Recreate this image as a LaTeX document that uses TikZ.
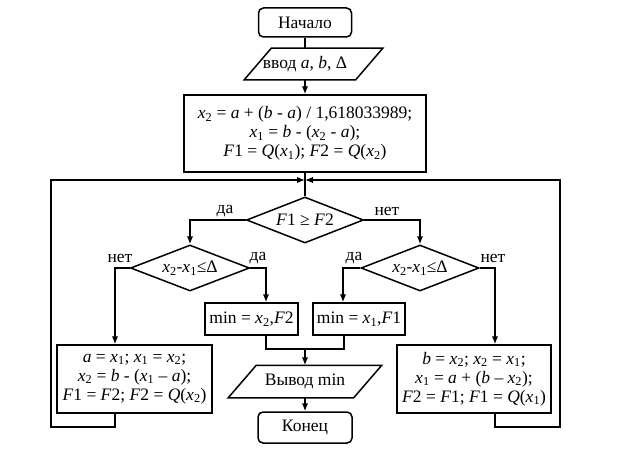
\documentclass[tikz,border=0pt]{standalone}
\usepackage{fontspec}
\setmainfont{Liberation Serif}
\usetikzlibrary{arrows.meta,shapes.geometric,calc}
\newcommand\vx[1]{\textit{x}\textsubscript{#1}}
\newcommand\vi[1]{\textit{#1}}
\begin{document}
\begin{tikzpicture}[x=1pt,y=-1pt,line width=1.5pt,
  txt/.style={font=\fontsize{17.5}{19}\selectfont},
  box/.style={txt,draw,rectangle,inner sep=0pt,align=center},
  term/.style={box,rounded corners=5pt},
  io/.style={txt,rectangle,inner sep=0pt,align=center},
  dec/.style={txt,draw,diamond,aspect=2.5,inner sep=0pt},
  lbl/.style={txt,inner sep=0pt},
  arr/.style={-{Latex[length=8pt,width=6.5pt]}}]
\fill[white] (0,0) rectangle (626,452);
\useasboundingbox (0,0) rectangle (626,452);

\node[term,minimum width=93pt,minimum height=29pt] (start) at (305,22.5) {Начало};
\node[io,minimum width=110pt,minimum height=30pt] (in) at (305,64) {ввод \vi{a}, \vi{b}, Δ};
\draw ([xshift=22pt]in.north west) -- ([xshift=22pt]in.north east)
   -- ([xshift=-5pt]in.south east) -- ([xshift=-5pt]in.south west) -- cycle;
\node[box,minimum width=242pt,minimum height=77pt] (main) at (305,133.5)
  {\vx{2} = \vi{a} + (\vi{b} - \vi{a}) / 1,618033989;\\
   \vx{1} = \vi{b} - (\vx{2} - \vi{a});\\
   \vi{F}1 = \vi{Q}(\vx{1}); \vi{F}2 = \vi{Q}(\vx{2})};

\node[dec,minimum width=117pt,minimum height=46pt] (d1) at (305,220) {\vi{F}1 ≥ \vi{F}2};
\node[dec,minimum width=119pt,minimum height=46pt] (d2) at (190,268) {\vx{2}-\vx{1}≤Δ};
\node[dec,minimum width=118pt,minimum height=46pt] (d3) at (420,268) {\vx{2}-\vx{1}≤Δ};

\node[box,minimum width=93pt,minimum height=32pt] (m1) at (251.5,319) {min = \vx{2},\vi{F}2};
\node[box,minimum width=92pt,minimum height=32pt] (m2) at (359,319) {min = \vx{1},\vi{F}1};

\node[box,minimum width=155pt,minimum height=68pt] (lb) at (134.5,379)
  {\vi{a} = \vx{1}; \vx{1} = \vx{2};\\
   \vx{2} = \vi{b} - (\vx{1} – \vi{a});\\
   \vi{F}1 = \vi{F}2; \vi{F}2 = \vi{Q}(\vx{2})};
\node[box,minimum width=154pt,minimum height=68pt] (rb) at (474,379)
  {\vi{b} = \vx{2}; \vx{2} = \vx{1};\\
   \vx{1} = \vi{a} + (\vi{b} – \vx{2});\\
   \vi{F}2 = \vi{F}1; \vi{F}1 = \vi{Q}(\vx{1})};

\node[io,minimum width=124pt,minimum height=31pt] (out) at (305,381.5) {Вывод min};
\draw ([xshift=14pt]out.north west) -- ([xshift=14pt]out.north east)
   -- ([xshift=-14pt]out.south east) -- ([xshift=-14pt]out.south west) -- cycle;
\node[term,minimum width=94pt,minimum height=31pt] (end) at (305,427.5) {Конец};

% labels
\node[lbl] (l1) at (225,211) {да};
\node[lbl] (l2) at (387,211) {нет};
\node[lbl] (l3) at (120,258) {нет};
\node[lbl] (l4) at (258,258) {да};
\node[lbl] (l5) at (354,258) {да};
\node[lbl] (l6) at (493,258) {нет};

% coordinates
\coordinate (J) at (305,180);
\coordinate (LL) at (51,427);
\coordinate (RR) at (560,427);
\coordinate (M) at (305,349);

% connectors
\draw (start.south) -- (start.south |- in.north);
\draw[arr] (start.south |- in.south) -- (main.north);
\draw (main.south) -- (d1.north);
\draw[arr] (d1.west) -| (d2.north);
\draw[arr] (d1.east) -| (d3.north);
\draw[arr] (d2.east) -| ([xshift=14.5pt]m1.north);
\draw[arr] (d2.west) -| ([xshift=-19.5pt]lb.north);
\draw[arr] (d3.west) -| ([xshift=-16pt]m2.north);
\draw[arr] (d3.east) -| ([xshift=21pt]rb.north);
\draw ([xshift=14.5pt]m1.south) |- (M) -| ([xshift=-15pt]m2.south);
\draw[arr] (M) -- (out.north);
\draw[arr] (out.south) -- (end.north);
\draw[arr] ([xshift=-19.5pt]lb.south) |- (LL) |- (J);
\draw[arr] ([xshift=21pt]rb.south) |- (RR) |- (J);
\end{tikzpicture}
\end{document}
